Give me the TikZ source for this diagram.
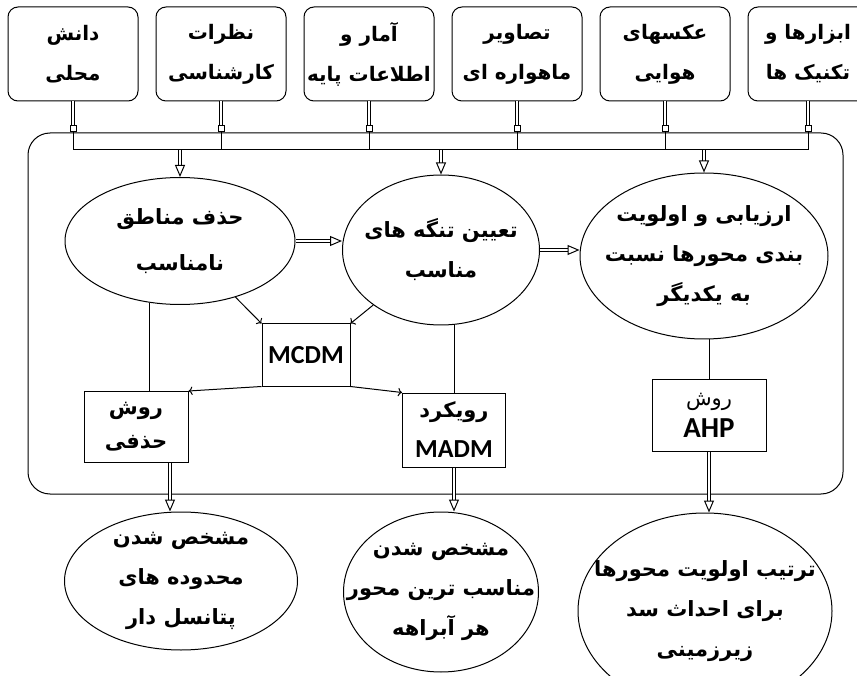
\documentclass[tikz,border=0pt]{standalone}
\usepackage{fontspec}
\newfontfamily\arabicfont[Script=Arabic, BoldFont=DejaVu Sans Bold]{DejaVu Sans}
\newfontfamily\latinfont{Carlito}
\TeXXeTstate=1
\usetikzlibrary{shapes.geometric,arrows.meta,positioning}

\newcommand{\fatxt}[1]{\beginR #1\endR}
\newcommand{\lat}[2][26]{{\latinfont\fontsize{#1}{30}\selectfont #2}}

\begin{document}
\begin{tikzpicture}[
    x=1pt, y=-1pt,
    line width=1pt,
    font=\arabicfont\bfseries\fontsize{21}{40}\selectfont,
    source/.style={rectangle, draw, rounded corners=10pt, minimum width=130pt, minimum height=94pt, inner xsep=0pt, align=center, font=\arabicfont\bfseries\fontsize{20}{40}\selectfont},
    stage/.style={ellipse, draw, align=center, inner xsep=-40pt, inner ysep=-30pt},
    method/.style={rectangle, draw, align=center, inner sep=0pt},
    hollow/.style={double, double distance=2.5pt, -{Triangle[open, length=12pt, width=10pt]}},
    stem/.style={double, double distance=2.5pt, -{Rectangle[open, length=7pt, width=7pt]}},
    thin arrow/.style={-{To[length=4pt]}}
]
\clip (0,0) rectangle (857,676);

% Sources
\node[source] (b1) at (73,54) {\fatxt{دانش}\\\fatxt{محلی}};
\node[source, right=17pt of b1] (b2) {\fatxt{نظرات}\\\fatxt{کارشناسی}};
\node[source, right=17pt of b2] (b3) {\fatxt{آمار و}\\\fatxt{اطلاعات پایه}};
\node[source, right=17pt of b3] (b4) {\fatxt{تصاویر}\\\fatxt{ماهواره ای}};
\node[source, right=17pt of b4] (b5) {\fatxt{عکسهای}\\\fatxt{هوایی}};
\node[source, right=17pt of b5, minimum width=120pt] (b6) {\fatxt{ابزارها و}\\\fatxt{تکنیک ها}};

% Frame and bus
\node[draw, rounded corners=22pt, minimum width=815pt, minimum height=361pt] (frame) at (435.5,313.5) {};
\coordinate (bus) at (0,150);

% Stages
\node[stage, minimum width=230pt, minimum height=127pt] (e1) at (180,241) {\fatxt{حذف مناطق}\\[6pt]\fatxt{نامناسب}};
\node[stage, minimum width=197pt, minimum height=150pt] (e2) at (441,250) {\fatxt{تعیین تنگه های}\\\fatxt{مناسب}};
\node[stage, minimum width=248pt, minimum height=166pt] (e3) at (704,256) {\fatxt{ارزیابی و اولویت}\\\fatxt{بندی محورها نسبت}\\\fatxt{به یکدیگر}};

% Methods
\node[method, minimum width=88pt, minimum height=62pt] (mcdm) at (306,355) {\lat{MCDM}};
\node[method, minimum width=104pt, minimum height=71pt] (hz) at (136,427) {\fatxt{روش}\\[-6pt]\fatxt{حذفی}};
\node[method, minimum width=103pt, minimum height=74pt] (madm) at (454,430) {\fatxt{رویکرد}\\\lat{MADM}};
\node[method, minimum width=114pt, minimum height=72pt] (ahp) at (709,415) {{\mdseries\fatxt{روش}}\\[-8pt]\lat[29]{AHP}};

% Results
\node[stage, minimum width=233pt, minimum height=138pt] (r1) at (181,581) {\fatxt{مشخص شدن}\\\fatxt{محدوده های}\\\fatxt{پتانسل دار}};
\node[stage, minimum width=195pt, minimum height=160pt] (r2) at (441,592) {\fatxt{مشخص شدن}\\\fatxt{مناسب ترین محور}\\\fatxt{هر آبراهه}};
\node[stage, minimum width=254pt, minimum height=196pt] (r3) at (705,611) {\fatxt{ترتیب اولویت محورها}\\\fatxt{برای احداث سد}\\\fatxt{زیرزمینی}};

% Inputs
\foreach \i in {1,...,6} {
    \draw[stem] (b\i.south) -- (b\i.south |- frame.north);
    \draw (b\i.south |- frame.north) -- (b\i.south |- bus);
}
\draw (b1.south |- bus) -- (b6.south |- bus);
\foreach \e in {e1,e2,e3}
    \draw[hollow] (\e.north |- bus) -- (\e.north);

% Flow between stages
\draw[hollow] (e1.east) -- (e1.east -| e2.west);
\draw[hollow] (e2.east) -- (e2.east -| e3.west);

% MCDM links
\draw[thin arrow] (e1) -- (mcdm.north west);
\draw[thin arrow] (e2) -- (mcdm.north east);
\draw[thin arrow] (mcdm.south west) -- (hz.north east);
\draw[thin arrow] (mcdm.south east) -- (madm.north west);

% Stage to method
\draw (e1.244) -- (e1.244 |- hz.north);
\draw (madm.north) -- (madm.north |- e2.south);
\draw (ahp.north) -- (ahp.north |- e3.south);

% Outputs
\coordinate (hzout) at ([xshift=34pt]hz.south);
\draw[hollow] (hzout) -- (hzout |- r1.north);
\draw[hollow] (madm.south) -- (madm.south |- r2.north);
\draw[hollow] (ahp.south) -- (ahp.south |- r3.north);

\end{tikzpicture}
\end{document}
